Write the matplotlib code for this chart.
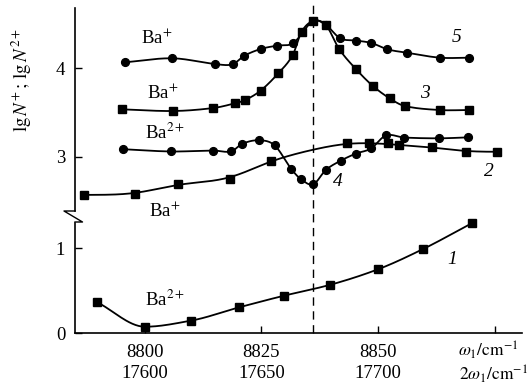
import numpy as np
import matplotlib
matplotlib.use("Agg")
import matplotlib.pyplot as plt
from matplotlib import transforms
from matplotlib.lines import Line2D

plt.rcParams['font.family'] = ['Liberation Serif', 'DejaVu Serif']
plt.rcParams['mathtext.fontset'] = 'stix'

# ---- data ----
x5 = [8795.7, 8805.9, 8815.0, 8818.8, 8821.2, 8824.8, 8828.3, 8831.8, 8836.1, 8838.8,
      8841.9, 8845.2, 8848.6, 8852.0, 8856.2, 8863.3, 8869.6]
y5 = [4.068, 4.113, 4.049, 4.045, 4.139, 4.218, 4.256, 4.286, 4.535, 4.49,
      4.339, 4.314, 4.286, 4.215, 4.176, 4.12, 4.12]

x3 = [8795.0, 8806.1, 8814.7, 8819.3, 8821.5, 8824.8, 8828.6, 8831.7, 8833.6, 8836.1,
      8838.8, 8841.7, 8845.3, 8848.9, 8852.5, 8855.7, 8863.2, 8869.6]
y3 = [3.536, 3.517, 3.551, 3.604, 3.641, 3.747, 3.943, 4.15, 4.414, 4.535,
      4.49, 4.215, 3.989, 3.80, 3.66, 3.574, 3.528, 3.528]

x4 = [8795.3, 8805.6, 8814.7, 8818.5, 8820.9, 8824.5, 8827.8, 8831.4, 8833.5, 8836.1,
      8838.8, 8842.0, 8845.3, 8848.5, 8851.7, 8855.6, 8863.1, 8869.4]
y4 = [3.085, 3.059, 3.07, 3.06, 3.147, 3.186, 3.129, 2.861, 2.744, 2.688,
      2.85, 2.955, 3.036, 3.093, 3.24, 3.217, 3.208, 3.219]

x2 = [8787.0, 8797.9, 8807.1, 8818.3, 8827.0, 8843.3, 8848.0, 8852.1, 8854.5,
      8861.5, 8868.9, 8875.6]
y2 = [2.567, 2.581, 2.69, 2.751, 2.955, 3.158, 3.152, 3.152, 3.127,
      3.11, 3.057, 3.057]

x1 = [8789.8, 8800.0, 8809.8, 8820.2, 8829.8, 8839.6, 8850.0, 8859.7, 8870.1]
y1 = [0.362, 0.074, 0.145, 0.303, 0.44, 0.567, 0.752, 0.992, 1.295]

xticks = [8800, 8825, 8850, 8875]
row1 = ['8800', '8825', '8850', '']
row2 = ['17600', '17650', '17700', '']
x_res = 8836.0

FS = 13.5


def hermite(x, y, m, n=30):
    xs, ys = [], []
    for i in range(len(x) - 1):
        h = x[i + 1] - x[i]
        t = np.linspace(0, 1, n, endpoint=False)
        h00 = 2 * t**3 - 3 * t**2 + 1
        h10 = t**3 - 2 * t**2 + t
        h01 = -2 * t**3 + 3 * t**2
        h11 = t**3 - t**2
        xs.append(x[i] + t * h)
        ys.append(h00 * y[i] + h10 * h * m[i] + h01 * y[i + 1] + h11 * h * m[i + 1])
    xs.append([x[-1]])
    ys.append([y[-1]])
    return np.concatenate(xs), np.concatenate(ys)


def smooth(x, y, n=30):
    x = np.asarray(x, float)
    y = np.asarray(y, float)
    m = np.zeros_like(y)
    m[1:-1] = (y[2:] - y[:-2]) / (x[2:] - x[:-2])
    m[0] = (y[1] - y[0]) / (x[1] - x[0])
    m[-1] = (y[-1] - y[-2]) / (x[-1] - x[-2])
    return hermite(x, y, m, n)


def pchip(x, y, n=30):
    x = np.asarray(x, float)
    y = np.asarray(y, float)
    h = np.diff(x)
    d = np.diff(y) / h
    m = np.zeros_like(y)
    for k in range(1, len(x) - 1):
        if d[k - 1] * d[k] <= 0:
            m[k] = 0.0
        else:
            w1 = 2 * h[k] + h[k - 1]
            w2 = h[k] + 2 * h[k - 1]
            m[k] = (w1 + w2) / (w1 / d[k - 1] + w2 / d[k])
    m[0] = d[0]
    m[-1] = d[-1]
    return hermite(x, y, m, n)


def kernel_smooth(x, y, sigma):
    sx, sy = smooth(x, y, n=60)
    xg = np.linspace(sx[0], sx[-1], 600)
    yg = np.interp(xg, sx, sy)
    out = np.empty_like(yg)
    for i, xv in enumerate(xg):
        w = np.exp(-0.5 * ((xg - xv) / sigma) ** 2)
        out[i] = np.sum(w * yg) / np.sum(w)
    return xg, out


W, H = 528, 391
fig = plt.figure(figsize=(W / 100, H / 100), dpi=100)

xl, xr = 8784.98, 8880.9
ax_lo = fig.add_axes([75 / W, 1 - 333 / H, 447 / W, 116 / H])
ax_up = fig.add_axes([75 / W, 1 - 217 / H, 447 / W, 209 / H])
ax_lo.set_xlim(xl, xr)
ax_up.set_xlim(xl, xr)
ax_lo.set_ylim(0, 1.3695)
ax_up.set_ylim(2.318, 4.682)

for ax in (ax_lo, ax_up):
    ax.patch.set_alpha(0)
    ax.spines['top'].set_visible(False)
    ax.spines['right'].set_visible(False)
    ax.spines['left'].set_linewidth(1.2)
    ax.tick_params(axis='y', direction='in', length=5, width=1.0, pad=7,
                   labelsize=FS)
ax_up.spines['bottom'].set_visible(False)
ax_up.spines['left'].set_bounds(2.386, 4.682)
ax_lo.spines['left'].set_bounds(0, 1.299)
ax_lo.spines['bottom'].set_linewidth(1.2)
ax_up.set_xticks([])
ax_up.set_yticks([3, 4])
ax_up.set_yticklabels(['3', '4'])
ax_lo.set_yticks([0, 1])
ax_lo.set_yticklabels(['0', '1'])
ax_lo.set_xticks(xticks)
ax_lo.set_xticklabels([''] * len(xticks))
ax_lo.tick_params(axis='x', direction='in', length=5, width=1.0)

lw = 1.3
ms = 5.6
sq = dict(marker='s', markersize=ms, color='black', linestyle='none', clip_on=False)
ci = dict(marker='o', markersize=ms, color='black', linestyle='none', clip_on=False)

for (xx, yy, style) in [(x5, y5, ci), (x3, y3, sq), (x4, y4, ci)]:
    sx, sy = smooth(xx, yy)
    ax_up.plot(sx, sy, color='black', lw=lw, clip_on=False)
    ax_up.plot(xx, yy, **style)
sx, sy = kernel_smooth(x2, y2, 3.5)
ax_up.plot(sx, sy, color='black', lw=lw, clip_on=False)
ax_up.plot(x2, y2, **sq)

sx, sy = pchip(x1, y1)
ax_lo.plot(sx, sy, color='black', lw=lw, clip_on=False)
ax_lo.plot(x1, y1, **sq)

# dashed resonance line spanning both panels
trans = transforms.blended_transform_factory(ax_up.transData, ax_up.transAxes)
ax_up.plot([x_res, x_res], [-116 / 209, 1.015], transform=trans, color='black',
           lw=1.0, linestyle=(0, (6, 4)), clip_on=False)

# axis break zigzag
pts = [(75, 211), (64, 211), (82.5, 222), (75, 222)]
fig.add_artist(Line2D([p[0] / W for p in pts], [1 - p[1] / H for p in pts],
                      color='black', lw=1.0, transform=fig.transFigure))

# x tick labels (two rows)
tb = transforms.blended_transform_factory(ax_lo.transData, fig.transFigure)
for xv, a, b in zip(xticks, row1, row2):
    ax_lo.text(xv, 1 - 352.5 / H, a, transform=tb, ha='center', va='center', fontsize=FS)
    ax_lo.text(xv, 1 - 373 / H, b, transform=tb, ha='center', va='center', fontsize=FS)
fig.text(518 / W, 1 - 350 / H, r'$\omega_1/\mathrm{cm}^{-1}$', ha='right', va='center',
         fontsize=12.5)
fig.text(528 / W, 1 - 374 / H, r'$2\omega_1/\mathrm{cm}^{-1}$', ha='right', va='center',
         fontsize=12.5)

# y label
fig.text(22 / W, 1 - 80 / H, r'$\mathrm{lg}\,N^{+}\,;\,\mathrm{lg}\,N^{2+}$', rotation=90,
         ha='center', va='center', fontsize=FS)

# species labels
for (px, py, s) in [(157, 38, r'Ba$^{+}$'), (163, 93, r'Ba$^{+}$'), (165, 133, r'Ba$^{2+}$'),
                    (165, 211, r'Ba$^{+}$'), (165, 300, r'Ba$^{2+}$')]:
    fig.text(px / W, 1 - py / H, s, ha='center', va='center', fontsize=FS)

# curve numbers
for (px, py, s) in [(457, 38, '5'), (425, 94, '3'), (489, 171, '2'), (338, 181, '4'),
                    (452, 259, '1')]:
    fig.text(px / W, 1 - py / H, s, ha='center', va='center', fontsize=14,
             fontstyle='italic')

fig.savefig('out.png', dpi=100)
